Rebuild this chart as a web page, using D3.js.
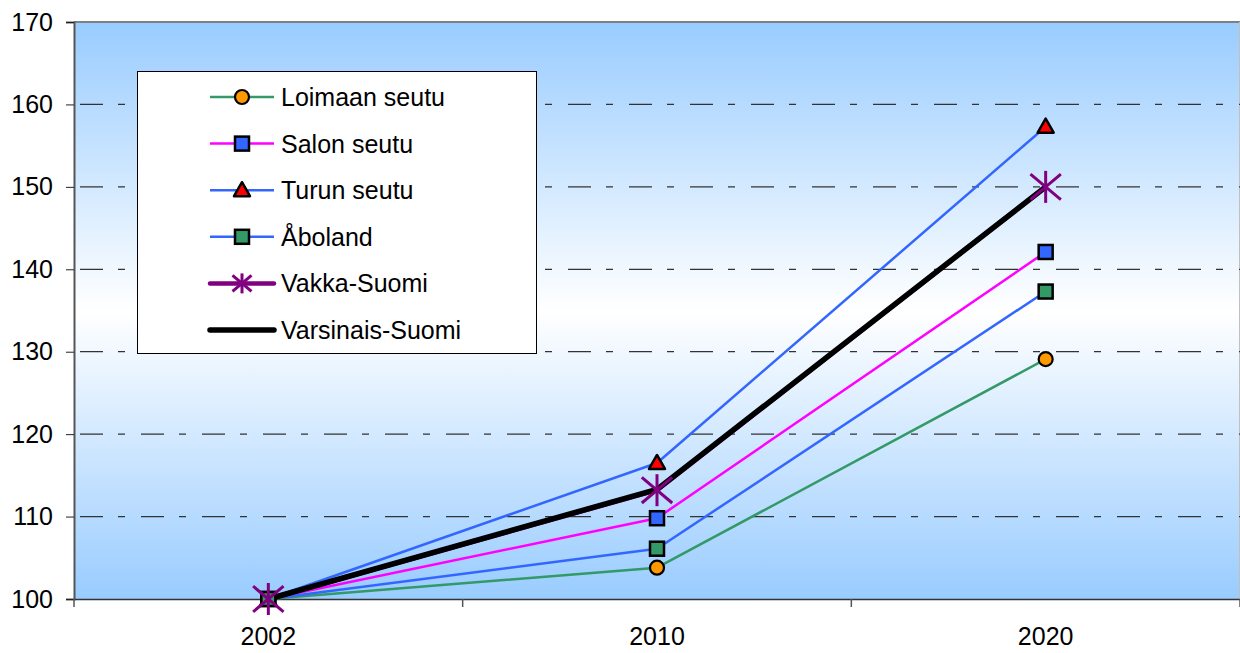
<!DOCTYPE html>
<html><head><meta charset="utf-8">
<script src="https://cdn.jsdelivr.net/npm/d3@7"></script>
<style>
html,body{margin:0;padding:0;background:#fff;}
text{font-family:"Liberation Sans",Arial,sans-serif;}
</style></head>
<body>
<svg id="c" width="1240" height="653"></svg>
<script>
const years = ["2002","2010","2020"];
const seriesNames = ["Loimaan seutu","Salon seutu","Turun seutu","Åboland","Vakka-Suomi","Varsinais-Suomi"];
const loimaa = [100, 103.8, 129.1];
const salo = [100, 109.8, 142.1];
const turku = [100, 116.5, 157.3];
const aboland = [100, 106.1, 137.3];
const vakka = [100, 113.2, 150.0];
const varsinais = [100, 113.3, 150.0];
const yTicks = [100,110,120,130,140,150,160,170];

const styles = [
  {line:"#339966", w:2.5, marker:"circle", fill:"#FF9900"},
  {line:"#FF00FF", w:2.5, marker:"square", fill:"#3366FF"},
  {line:"#3366FF", w:2.5, marker:"triangle", fill:"#FF0000"},
  {line:"#3366FF", w:2.5, marker:"square", fill:"#339966"},
  {line:"#800080", w:4.5, marker:"star", fill:"#800080"},
  {line:"#000000", w:5.5, marker:null, fill:null}
];
const data = [loimaa,salo,turku,aboland,vakka,varsinais];

const svg = d3.select("#c");
const L=74, R=1240, T=22, B=599;
const x = d3.scaleBand().domain(years).range([L,R]);
const y = d3.scaleLinear().domain([100,170]).range([B,T]);

const defs = svg.append("defs");
const g = defs.append("linearGradient").attr("id","bg").attr("x1",0).attr("x2",0).attr("y1",0).attr("y2",1);
g.append("stop").attr("offset","0%").attr("stop-color","#99CCFF");
g.append("stop").attr("offset","50%").attr("stop-color","#FFFFFF");
g.append("stop").attr("offset","100%").attr("stop-color","#99CCFF");

svg.append("rect").attr("x",L).attr("y",T).attr("width",R-L).attr("height",B-T).attr("fill","url(#bg)");
svg.append("line").attr("x1",L).attr("x2",R).attr("y1",T).attr("y2",T).attr("stroke","#808080").attr("stroke-width",2);
svg.append("line").attr("x1",R-0.5).attr("x2",R-0.5).attr("y1",T).attr("y2",B).attr("stroke","#c0c0c0").attr("stroke-width",1);

svg.append("g").selectAll("line").data(yTicks.filter(v=>v>100 && v<170)).join("line")
  .attr("x1",L).attr("x2",R).attr("y1",d=>y(d)).attr("y2",d=>y(d))
  .attr("stroke","#333").attr("stroke-width",1.3).attr("stroke-dasharray","23,15,7,16").attr("stroke-dashoffset",-6);

const ya = svg.append("g").attr("transform",`translate(${L},0)`)
  .call(d3.axisLeft(y).tickValues(yTicks).tickSize(8).tickPadding(13).tickFormat(d3.format("d")));
ya.select(".domain").attr("stroke","#555").attr("stroke-width",2);
ya.selectAll(".tick line").attr("stroke","#222");
ya.selectAll("text").attr("font-size",25).attr("fill","#000").attr("font-family","Liberation Sans, Arial, sans-serif");

const xa = svg.append("g").attr("transform",`translate(0,${B})`)
  .call(d3.axisBottom(x).tickSize(0).tickPadding(28));
xa.select(".domain").attr("stroke","#333").attr("stroke-width",1.5);
xa.selectAll("text").attr("font-size",25).attr("fill","#000").attr("font-family","Liberation Sans, Arial, sans-serif");
const bounds = [L].concat(years.map(d=>x(d)+x.bandwidth()));
svg.append("g").selectAll("line").data(bounds).join("line")
  .attr("x1",d=>d).attr("x2",d=>d).attr("y1",B).attr("y2",B+8).attr("stroke","#555").attr("stroke-width",1.5);

const cx = d => x(d)+x.bandwidth()/2;
const lineGen = d3.line().x((v,i)=>cx(years[i])).y(v=>y(v));

const lines = svg.append("g");
data.forEach((s,i)=>{
  lines.append("path").attr("d",lineGen(s)).attr("fill","none")
    .attr("stroke",styles[i].line).attr("stroke-width",styles[i].w).attr("stroke-linejoin","round");
});

function drawMarker(sel, type, fill, px, py, big){
  if(type==="circle"){
    sel.append("circle").attr("cx",px).attr("cy",py).attr("r",7).attr("fill",fill).attr("stroke","#000").attr("stroke-width",2.2);
  } else if(type==="square"){
    sel.append("rect").attr("x",px-7).attr("y",py-7).attr("width",14).attr("height",14).attr("fill",fill).attr("stroke","#000").attr("stroke-width",2.5);
  } else if(type==="triangle"){
    sel.append("path").attr("d",`M${px},${py-8}L${px+8},${py+6}L${px-8},${py+6}Z`).attr("fill",fill).attr("stroke","#000").attr("stroke-width",2.5).attr("stroke-linejoin","round");
  } else if(type==="star"){
    const r = big?16:10;
    const d = [[0,-r,0,r],[-r*0.95,-r*0.8,r*0.95,r*0.8],[-r*0.95,r*0.8,r*0.95,-r*0.8]];
    d.forEach(a=>sel.append("line").attr("x1",px+a[0]).attr("y1",py+a[1]).attr("x2",px+a[2]).attr("y2",py+a[3]).attr("stroke",fill).attr("stroke-width",3));
  }
}
const marks = svg.append("g");
data.forEach((s,i)=>{
  if(!styles[i].marker) return;
  s.forEach((v,j)=>drawMarker(marks, styles[i].marker, styles[i].fill, cx(years[j]), y(v), true));
});

const lg = svg.append("g");
lg.append("rect").attr("x",137.5).attr("y",71.5).attr("width",399).attr("height",282).attr("fill","#fff").attr("stroke","#000").attr("stroke-width",1);
seriesNames.forEach((n,i)=>{
  const ly = 97 + i*46.6;
  lg.append("line").attr("x1",210).attr("x2",274).attr("y1",ly).attr("y2",ly)
    .attr("stroke",styles[i].line).attr("stroke-width",styles[i].w).attr("stroke-linecap",styles[i].w>3?"round":"butt");
  if(styles[i].marker) drawMarker(lg, styles[i].marker, styles[i].fill, 242, ly, false);
  lg.append("text").attr("x",281).attr("y",ly+9).attr("font-size",25).attr("fill","#000").text(n);
});
</script>
</body></html>
